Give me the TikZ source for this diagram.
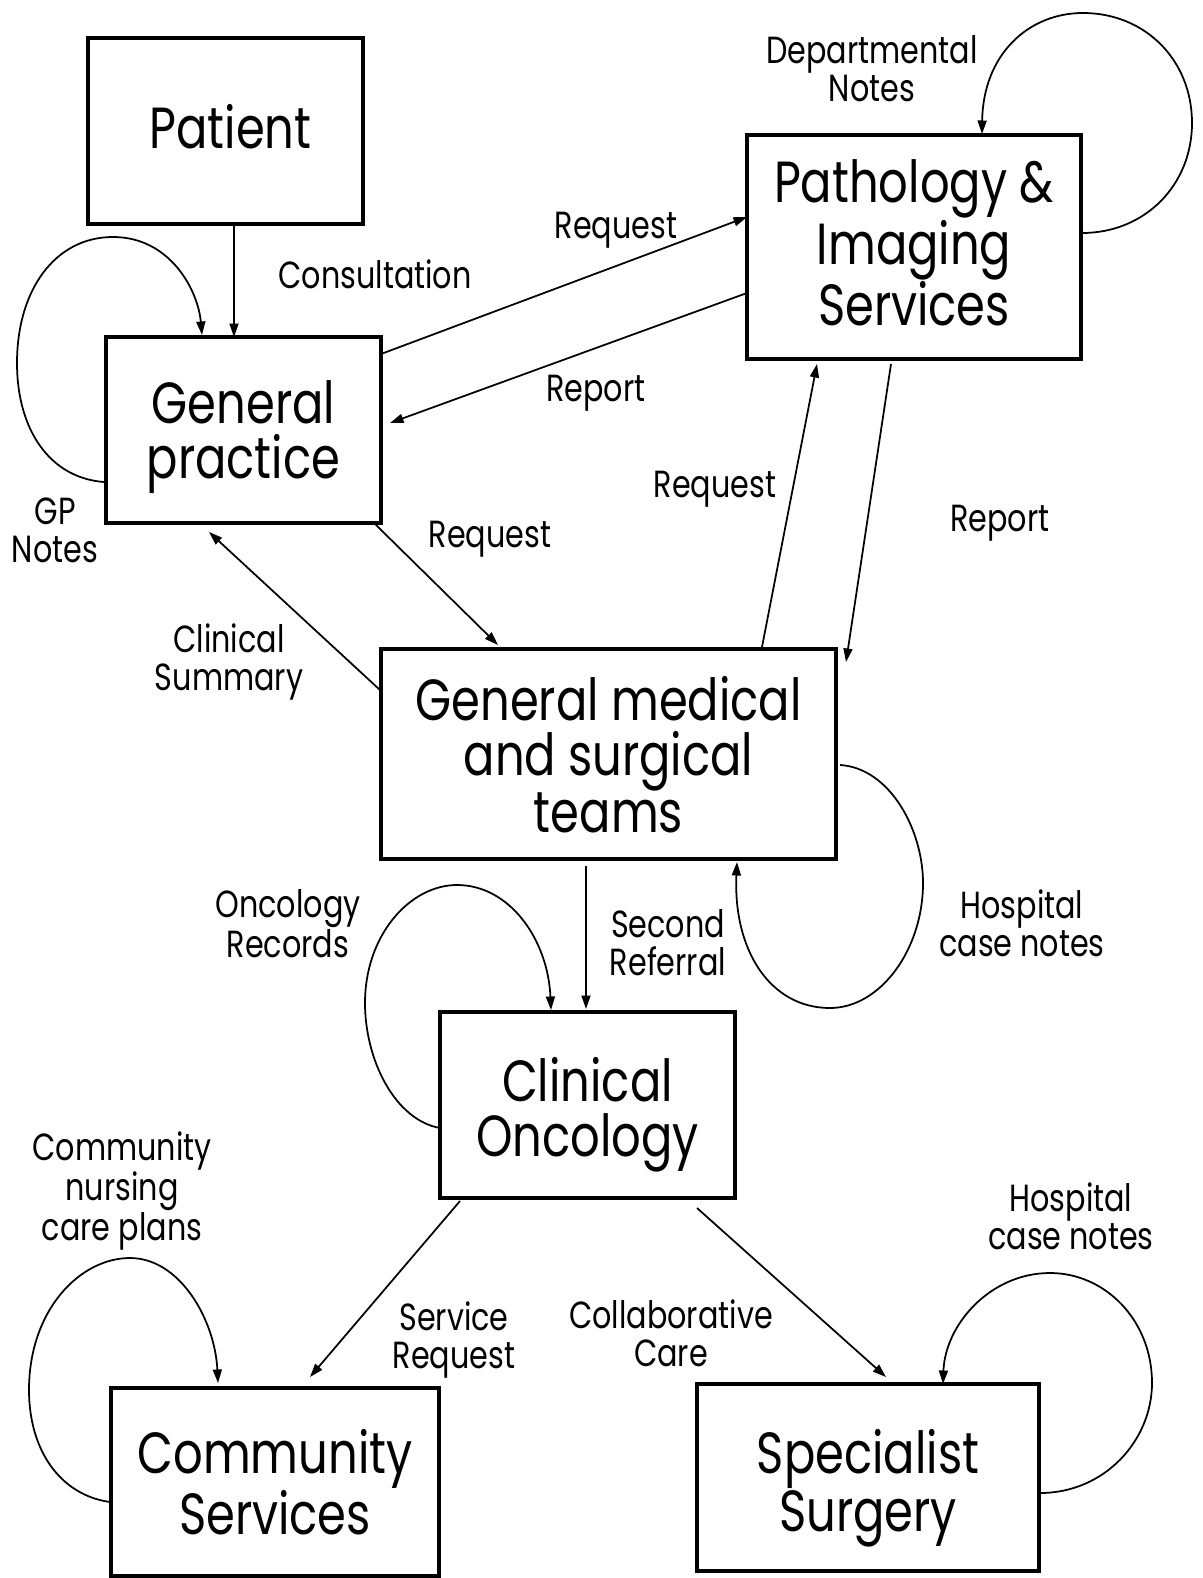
\documentclass[tikz,border=0pt]{standalone}
\usepackage{fontspec}
\setmainfont{Poppins}[FakeStretch=0.8]
\usetikzlibrary{arrows.meta,calc}

\tikzset{
  box/.style={draw, line width=0.8mm, inner sep=0pt, outer sep=0pt},
  boxtext/.style={align=center, inner sep=0pt, font=\fontsize{33}{31.3}\selectfont},
  lab/.style={align=center, inner sep=0pt, font=\fontsize{21.5}{21.6}\selectfont},
  flow/.style={line width=0.35mm, -{Triangle[length=2.7mm, width=1.8mm]}},
}

\begin{document}
\begin{tikzpicture}[x=0.2mm, y=-0.2mm]
\useasboundingbox (0,0) rectangle (1202,1578);

% boxes
\node[box, minimum width=55mm, minimum height=37.2mm] (patient) at (225.5,131) {};
\node[box, minimum width=55mm, minimum height=37.2mm] (gp) at (243.5,430) {};
\node[box, minimum width=66.8mm, minimum height=44.8mm] (path) at (914,247) {};
\node[box, minimum width=91mm, minimum height=42mm] (gm) at (608.5,754) {};
\node[box, minimum width=59mm, minimum height=37.2mm] (co) at (587.5,1105) {};
\node[box, minimum width=65.6mm, minimum height=37.6mm] (cs) at (275,1482) {};
\node[box, minimum width=68.4mm, minimum height=37.4mm] (ss) at (868,1477.5) {};

% box titles
\node[boxtext] (patient-t) at ($(patient.center)+(5,-4)$) {Patient};
\node[boxtext] (gp-t) at ($(gp.center)+(0,7)$) {General\\practice};
\node[boxtext] (path-t) at ($(path.center)+(0,-4)$) {Pathology \&\\Imaging\\Services};
\node[boxtext] (gm-t) at ($(gm.center)+(0,1)$) {General medical\\and surgical\\teams};
\node[boxtext] (co-t) at ($(co.center)+(0,10)$) {Clinical\\Oncology};
\node[boxtext] (cs-t) at ($(cs.center)+(0,0)$) {Community\\Services};
\node[boxtext] (ss-t) at ($(ss.center)+(0,11)$) {Specialist\\Surgery};

% labels
\node[lab] (lconsult) at (375,274) {Consultation};
\node[lab] (lreq1) at (616,230) {Request};
\node[lab] (lrep1) at (596,393) {Report};
\node[lab] (lgpn) at (55,530) {GP\\Notes};
\node[lab] (ldept) at (872,69) {Departmental\\Notes};
\node[lab] (lreq2) at (715,489) {Request};
\node[lab] (lrep2) at (1000,523) {Report};
\node[lab] (lreq3) at (490,539) {Request};
\node[lab] (lsum) at (229,662) {Clinical\\Summary};
\node[lab] (lhosp1) at (1022,923) {Hospital\\case notes};
\node[lab] (lonc) at (288,924) {Oncology\\Records};
\node[lab] (lsec) at (668,943) {Second\\Referral};
\node[lab] (lcomm) at (122,1191) {Community\\nursing\\care plans};
\node[lab] (lserv) at (454,1340) {Service\\Request};
\node[lab] (lcoll) at (671,1333) {Collaborative\\Care};
\node[lab] (lhosp2) at (1071,1216) {Hospital\\case notes};

% straight flows
\draw[flow] ($(patient.south west)+(146,0)$) -- ($(gp.north west)+(128,0)$);
\draw[flow] ($(gp.north east)+(0,17)$) -- ($(path.north west)+(0,82)$);
\draw[flow] ($(path.north west)+(0,158)$) -- ($(gp.north east)+(9,86)$);
\draw[flow] ($(gm.north west)+(381,-2)$) -- ($(path.south west)+(70,5)$);
\draw[flow] ($(path.south west)+(144,5)$) -- ($(gm.north east)+(10,13)$);
\draw[flow] ($(gp.south east)+(-6,1)$) -- ($(gm.north west)+(117,-4)$);
\draw[flow] ($(gm.north west)+(-1,41)$) -- ($(gp.south west)+(103,9)$);
\draw[flow] ($(gm.south west)+(205,7)$) -- ($(co.north west)+(146,-3)$);
\draw[flow] ($(co.south west)+(20,3)$) -- ($(cs.north west)+(199,-11)$);
\draw[flow] ($(co.south west)+(257,10)$) -- ($(ss.north west)+(189,-7)$);

% record loops
\draw[flow] ($(gp.north west)+(-2,145)$)
  .. controls (50,478) and (17,430) .. (17,363)
  .. controls (17,290) and (55,237) .. (113,237)
  .. controls (170,237) and (198,290) .. ($(gp.north west)+(96,-2)$);
\draw[flow] ($(path.north east)+(1,98)$)
  .. controls (1145,233) and (1192,185) .. (1192,123)
  .. controls (1192,60) and (1145,13) .. (1083,13)
  .. controls (1028,13) and (983,55) .. ($(path.north west)+(235,-1)$);
\draw[flow] ($(gm.north east)+(4,116)$)
  .. controls (890,768) and (923,830) .. (923,883)
  .. controls (923,950) and (880,1008) .. (830,1008)
  .. controls (770,1008) and (733,950) .. ($(gm.south west)+(356,3)$);
\draw[flow] ($(co.north west)+(0,116)$)
  .. controls (395,1120) and (365,1060) .. (365,1003)
  .. controls (365,935) and (410,885) .. (457,885)
  .. controls (510,885) and (548,940) .. ($(co.north west)+(111,-2)$);
\draw[flow] ($(cs.north west)+(-1,114)$)
  .. controls (60,1495) and (29,1450) .. (29,1390)
  .. controls (29,1310) and (80,1258) .. (130,1258)
  .. controls (180,1258) and (215,1320) .. ($(cs.north west)+(107,-5)$);
\draw[flow] ($(ss.north east)+(1,109)$)
  .. controls (1105,1493) and (1152,1440) .. (1152,1383)
  .. controls (1152,1320) and (1105,1273) .. (1050,1273)
  .. controls (990,1273) and (945,1325) .. ($(ss.north west)+(246,0)$);
\end{tikzpicture}
\end{document}
